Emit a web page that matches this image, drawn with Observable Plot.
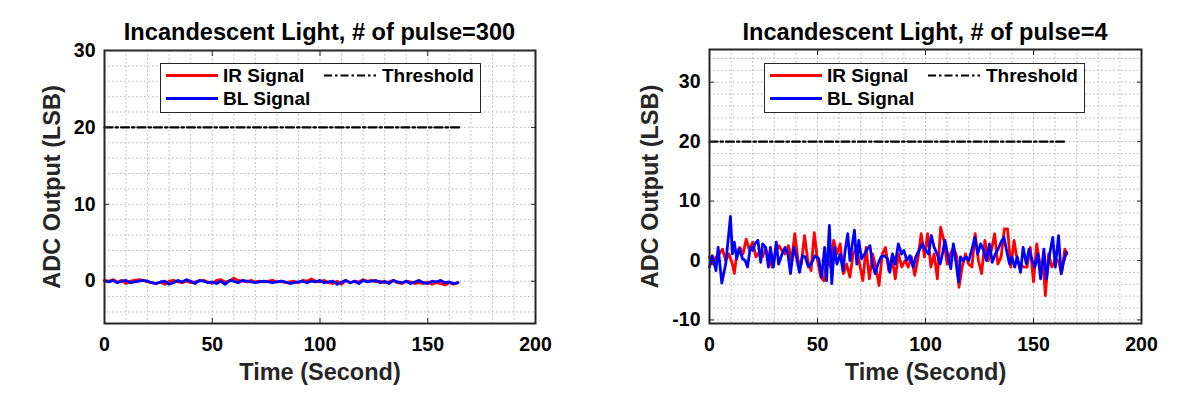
<!DOCTYPE html>
<html>
<head>
<meta charset="utf-8">
<script src="https://cdn.jsdelivr.net/npm/d3@7"></script>
<script src="https://cdn.jsdelivr.net/npm/@observablehq/plot@0.6"></script>
<style>
  html, body { margin: 0; padding: 0; background: #fff; }
  #wrap { position: relative; width: 1200px; height: 401px; background: #fff; overflow: hidden; }
  .panel { position: absolute; top: 0; width: 600px; height: 401px; }
  .title { position: absolute; top: 19px; height: 26px; line-height: 26px; text-align: center; z-index: 3;
           font-family: 'Liberation Sans', Arial, Helvetica, sans-serif; font-weight: bold; font-size: 23.6px; color: #000; white-space: nowrap; }
  .plotholder { position: absolute; left: 0; top: 40px; z-index: 1; }
  .legend { position: absolute; top: 63px; width: 321px; height: 50px; box-sizing: border-box; z-index: 2;
            border: 1.5px solid #262626; background: #fff; }
  .legend span { position: absolute; font-family: 'Liberation Sans', Arial, Helvetica, sans-serif; font-weight: bold;
                 font-size: 19px; line-height: 20px; height: 20px; color: #000; white-space: nowrap; }
  .legend svg { position: absolute; left: 0; top: 0; }
</style>
</head>
<body>
<div id="wrap">
  <div class="panel" id="p1" style="left:0px"></div>
  <div class="panel" id="p2" style="left:600px"></div>
</div>
<script>
// ---------------- data ----------------
const xTicks = [0, 50, 100, 150, 200];
const leftYTicks = [0, 10, 20, 30];
const rightYTicks = [-10, 0, 10, 20, 30];
const thresholdValue = 20;
const thresholdTimes = [0, 165];
const seriesNames = ["IR Signal", "BL Signal", "Threshold"];
const titles = ["Incandescent Light, # of pulse=300", "Incandescent Light, # of pulse=4"];
const xLabel = "Time (Second)";
const yLabel = "ADC Output (LSB)";

// left panel (pulse=300): sampled every 2 s
const leftTimeStep = 2;
const leftIR = [0.1, 0.0, 0.2, -0.1, 0.1, -0.3, 0.0, 0.1, 0.2, 0.1,
  -0.1, -0.2, -0.3, -0.1, -0.4, 0.0, 0.1, -0.1, -0.2, 0.0,
  -0.2, -0.1, 0.0, 0.1, -0.1, -0.3, 0.1, 0.2, -0.1, 0.0,
  0.4, 0.1, 0.0, -0.1, 0.1, -0.1, 0.0, -0.1, 0.0, 0.1,
  -0.1, 0.0, -0.2, -0.1, 0.0, -0.2, 0.1, 0.0, 0.3, 0.0,
  -0.1, 0.1, -0.2, -0.3, 0.0, -0.4, 0.1, -0.2, 0.0, -0.1,
  0.2, 0.0, 0.1, -0.1, 0.0, -0.2, -0.1, 0.1, -0.2, -0.3,
  0.0, -0.1, -0.3, -0.2, -0.3, -0.1, -0.4, -0.2, -0.3, -0.5,
  -0.2, -0.4, -0.2];
const leftBL = [0.0, -0.1, 0.1, -0.2, 0.0, 0.1, -0.2, -0.1, 0.0, 0.1,
  0.0, -0.2, -0.3, -0.1, 0.0, -0.4, -0.2, 0.1, -0.1, 0.2,
  0.0, -0.3, 0.1, 0.0, -0.2, -0.1, -0.3, 0.0, -0.4, 0.1,
  0.0, -0.2, 0.1, 0.0, -0.1, -0.2, -0.1, 0.0, -0.1, -0.2,
  -0.1, 0.0, -0.1, -0.3, -0.2, -0.1, 0.0, -0.2, 0.0, -0.1,
  0.1, -0.2, -0.1, 0.0, -0.4, -0.1, 0.1, -0.2, 0.0, -0.3,
  0.1, -0.1, 0.0, 0.1, -0.2, 0.0, -0.3, 0.1, -0.1, -0.2,
  0.0, -0.3, -0.1, 0.1, -0.2, -0.3, 0.0, -0.1, 0.1, -0.2,
  -0.1, -0.3, -0.2];

// right panel (pulse=4)
const rightIRTime = [0, 1.3, 3, 4.5, 6, 7.5, 9, 10.6, 11.5, 12.6, 14, 15.5, 17, 18.5, 20, 21.5, 23, 24.5, 26, 27.5,
  29, 30.5, 32, 33.5, 35, 36.5, 38, 39.5, 41, 42.5, 44, 45.5, 47, 48.5, 50, 51.5, 53, 54.5, 56, 57.5,
  59, 60.5, 62, 63.5, 65, 66.5, 68, 69.5, 71, 72.5, 74, 75.5, 77, 78.5, 80, 81.5, 83, 84.5, 86, 87.5,
  89, 90.5, 92, 93.5, 95, 96.5, 98, 99.5, 101, 102.5, 104, 105.5, 107, 108.5, 110, 111.5, 113, 114.5, 115.5, 117,
  118.5, 120, 121.5, 123, 124.5, 126, 127.5, 129, 130.5, 132, 133.5, 135, 136.5, 138, 139.5, 141, 142.5, 144, 145.5, 147,
  148.5, 150, 151.5, 153, 154.5, 155.5, 157, 158.5, 160, 161.5, 163, 164.5, 165.5];
const rightIR = [0.6, -0.6, 0.6, 1.1, 1.9, 0, 1.1, -0.6, -2.2, 1.1, 2.2, 1.1, 3.6, 1.7, 3.1, 0.6, 1.4, 0.6, 1.9, 0.6,
  -1.1, 1.1, 2.5, 1.7, 1.1, 2.5, 0, 4.5, 0, -0.6, 4.2, 0, -1.7, 4.7, 0, -2.8, -3.4, 0.6, -1.1, 3.4,
  1.1, 2.8, -2.2, -0.6, -2.8, 1.1, 2.2, -0.6, -3.4, 2.2, -3.1, 1.1, -1.1, -4.2, 1.1, 2.2, -1.7, 0.6, -3.1, 1.1,
  -1.1, 0, -1.1, 0.6, -2.5, 0.3, 4.5, 0.6, 4.5, -1.1, 1.1, -3.1, 5.6, 3.4, -0.6, 1.1, 2.2, 0.6, -4.5, -1.1,
  1.1, -0.6, -1.1, 4.5, 0, -2.2, 3.4, 0, 1.7, 4.5, -0.6, 0.6, 5.3, 5.3, -1.1, 3.4, 0, -0.8, -1.1, -1.1,
  2.2, -3.6, 2.8, -0.6, -0.6, -5.9, 1.1, -1.1, 0, 0, -2.2, 1.9, 1.1];
const rightBLTime = [0, 1.3, 3, 4, 5.7, 7.5, 9.7, 10.6, 11.5, 12.6, 13.8, 15.3, 16.5, 17.6, 18.9, 20, 21, 22.4, 23.7, 24.6,
  26, 27.3, 28.2, 29.6, 30.9, 32, 33.6, 35, 36.3, 37.5, 39, 40.2, 41.7, 43, 44.3, 45.8, 47, 48.8, 50.6, 51.9,
  53.3, 54.2, 55.5, 56.6, 57.8, 59, 60.5, 61.8, 62.8, 64, 65, 65.9, 67.1, 68.2, 69.1, 70.4, 71.8, 73, 74.3, 75.4,
  76.7, 78, 79.4, 81, 82.4, 83.5, 84.7, 86, 87.4, 88.9, 90, 91.4, 92.8, 94.3, 95.5, 97.3, 98.6, 100, 101.4, 102.7,
  104, 105.4, 106.8, 108, 109, 110.2, 111.7, 112.9, 114, 115.3, 116.2, 117.4, 118.9, 120.1, 121.5, 122.8, 124.2, 125.5, 126.9, 128.2,
  129.6, 130.9, 132.3, 133.6, 135, 136.3, 137.7, 138.9, 140, 141.3, 142.5, 144, 145.2, 146.7, 147.9, 149.4, 150.6, 152, 153.3, 154.8,
  156, 157.5, 158.9, 160.1, 161.6, 162.8, 164.1, 165.2];
const rightBL = [-1.1, 0.8, -1.7, 2.2, -3.8, -0.6, 7.4, 1.1, 3.1, 0.3, 2.0, 0.3, 0, -1.1, 2.2, 1.7, 2.8, 3.4, -0.3, 2.8,
  2.2, -1.1, 2.2, -1.1, 3.1, -0.6, 1.1, 2.2, 1.1, -2.2, 2.2, 0.6, -2.0, 0.8, 0.6, -1.1, -0.6, 0.8, 0.3, -2.8,
  2.2, -3.4, 5.9, -3.9, 2.2, -0.6, 1.1, -1.7, 1.7, 4.5, 0, 2.2, 5.1, -0.6, 3.4, 0.3, 1.1, 1.9, 2.5, -0.6,
  -2.2, -0.6, 0.6, 0.8, 0.3, -2.0, 1.1, -0.6, 2.8, 1.1, 1.7, 0, 0.8, -1.1, 0.6, 1.9, 2.8, 1.7, 1.1, 4.2,
  2.2, 1.1, -0.6, 1.4, 3.4, 1.1, -1.4, 2.8, 0, -3.6, 0.6, 0, 0.6, 0, 1.9, 3.9, 1.1, 2.8, 1.7, 0,
  2.8, -0.3, 1.1, 1.9, 3.1, 3.9, 1.4, -0.6, 0.6, -1.1, 0.6, -2.0, 2.2, -0.6, 1.9, 0, -1.1, 1.1, -3.1, 1.9,
  -3.1, 1.1, 3.9, -1.1, 4.2, -2.2, 0, 1.4];

// ---------------- drawing ----------------
const FONT = "'Liberation Sans', Arial, Helvetica, sans-serif";
const RED = "#ff0000", BLUE = "#0000ff";
const GRID = {stroke: "#b4b4b4", strokeOpacity: 1, strokeWidth: 1, strokeDasharray: "1.5,2.5"};

function toRows(times, values) { return values.map((v, i) => ({t: times[i], v})); }
const thresholdRows = thresholdTimes.map(t => ({t, v: thresholdValue}));

function drawPanel(el, cfg) {
  const frameW = 600 - cfg.ml - cfg.mr;
  const title = document.createElement("div");
  title.className = "title";
  title.style.left = cfg.ml + "px";
  title.style.width = frameW + "px";
  title.textContent = cfg.title;
  el.appendChild(title);

  const fmt = d => String(d);
  const chart = Plot.plot({
    width: 600, height: 361,
    marginLeft: cfg.ml, marginRight: cfg.mr, marginTop: cfg.mt, marginBottom: 78,
    style: {fontFamily: FONT, fontWeight: "bold", fontSize: "19.5px", color: "#000", background: "transparent", overflow: "visible"},
    x: {domain: [0, 200]},
    y: {domain: cfg.yDomain},
    marks: [
      Plot.gridX(d3.range(0, 201, 10), GRID),
      Plot.gridY(cfg.yGrid, GRID),
      Plot.line(thresholdRows, {x: "t", y: "v", stroke: "#000", strokeWidth: 2.2, strokeDasharray: "8,3,2.5,3"}),
      Plot.line(cfg.ir, {x: "t", y: "v", stroke: RED, strokeWidth: 2.8}),
      Plot.line(cfg.bl, {x: "t", y: "v", stroke: BLUE, strokeWidth: 2.8}),
      Plot.frame({stroke: "#262626", strokeWidth: 2}),
      Plot.axisX(xTicks, {anchor: "bottom", tickSize: 0, tickPadding: 14, label: null, tickFormat: fmt, fill: "#000"}),
      Plot.axisX(xTicks, {anchor: "bottom", tickSize: 5, dy: -5, tickFormat: () => "", label: null, stroke: "#262626"}),
      Plot.axisX(xTicks, {anchor: "top", tickSize: 5, dy: 5, tickFormat: () => "", label: null, stroke: "#262626"}),
      Plot.axisY(cfg.yTicks, {anchor: "left", tickSize: 0, tickPadding: 9, label: null, tickFormat: fmt, fill: "#000"}),
      Plot.axisY(cfg.yTicks, {anchor: "left", tickSize: 5, dx: 5, tickFormat: () => "", label: null, stroke: "#262626"}),
      Plot.axisY(cfg.yTicks, {anchor: "right", tickSize: 5, dx: -5, tickFormat: () => "", label: null, stroke: "#262626"}),
      Plot.text([yLabel], {text: d => d, frameAnchor: "left", textAnchor: "middle", lineAnchor: "middle", dx: cfg.ylx, rotate: -90, fontSize: 23.5, fontWeight: "bold", fill: "#262626"}),
      Plot.text([xLabel], {text: d => d, frameAnchor: "bottom", textAnchor: "middle", lineAnchor: "middle", dy: 49, fontSize: 23.5, fontWeight: "bold", fill: "#262626"})
    ]
  });
  const holder = document.createElement("div");
  holder.className = "plotholder";
  holder.appendChild(chart);
  el.appendChild(holder);

  // legend (overlaid inside the plot frame)
  const lg = document.createElement("div");
  lg.className = "legend";
  lg.style.left = cfg.legendLeft + "px";
  const ns = "http://www.w3.org/2000/svg";
  const svg = document.createElementNS(ns, "svg");
  svg.setAttribute("width", 318); svg.setAttribute("height", 47);
  const samples = [
    {x1: 5, x2: 57, y: 11.5, stroke: RED, dash: null, w: 2.8},
    {x1: 5, x2: 57, y: 34.5, stroke: BLUE, dash: null, w: 2.8},
    {x1: 163, x2: 215, y: 11.5, stroke: "#000", dash: "8,3,2.5,3", w: 2.2}
  ];
  samples.forEach(s => {
    const l = document.createElementNS(ns, "line");
    l.setAttribute("x1", s.x1); l.setAttribute("x2", s.x2);
    l.setAttribute("y1", s.y); l.setAttribute("y2", s.y);
    l.setAttribute("stroke", s.stroke); l.setAttribute("stroke-width", s.w);
    if (s.dash) l.setAttribute("stroke-dasharray", s.dash);
    svg.appendChild(l);
  });
  lg.appendChild(svg);
  const texts = [
    {t: seriesNames[0], x: 62, y: 1.5},
    {t: seriesNames[1], x: 62, y: 24.5},
    {t: seriesNames[2], x: 221, y: 1.5}
  ];
  texts.forEach(o => {
    const s = document.createElement("span");
    s.textContent = o.t; s.style.left = o.x + "px"; s.style.top = o.y + "px";
    lg.appendChild(s);
  });
  el.appendChild(lg);
}

drawPanel(document.getElementById("p1"), {
  title: titles[0], ml: 104, mr: 65, mt: 10,
  yDomain: [-5.5, 30], yTicks: leftYTicks, yGrid: d3.range(-4, 31, 2),
  ir: leftIR.map((v, i) => ({t: i * leftTimeStep, v})),
  bl: leftBL.map((v, i) => ({t: i * leftTimeStep, v})),
  ylx: -52, legendLeft: 160
});
drawPanel(document.getElementById("p2"), {
  title: titles[1], ml: 109, mr: 59, mt: 9,
  yDomain: [-10.6, 35.5], yTicks: rightYTicks, yGrid: d3.range(-10, 36, 2),
  ir: toRows(rightIRTime, rightIR),
  bl: toRows(rightBLTime, rightBL),
  ylx: -59, legendLeft: 164
});
</script>
</body>
</html>
